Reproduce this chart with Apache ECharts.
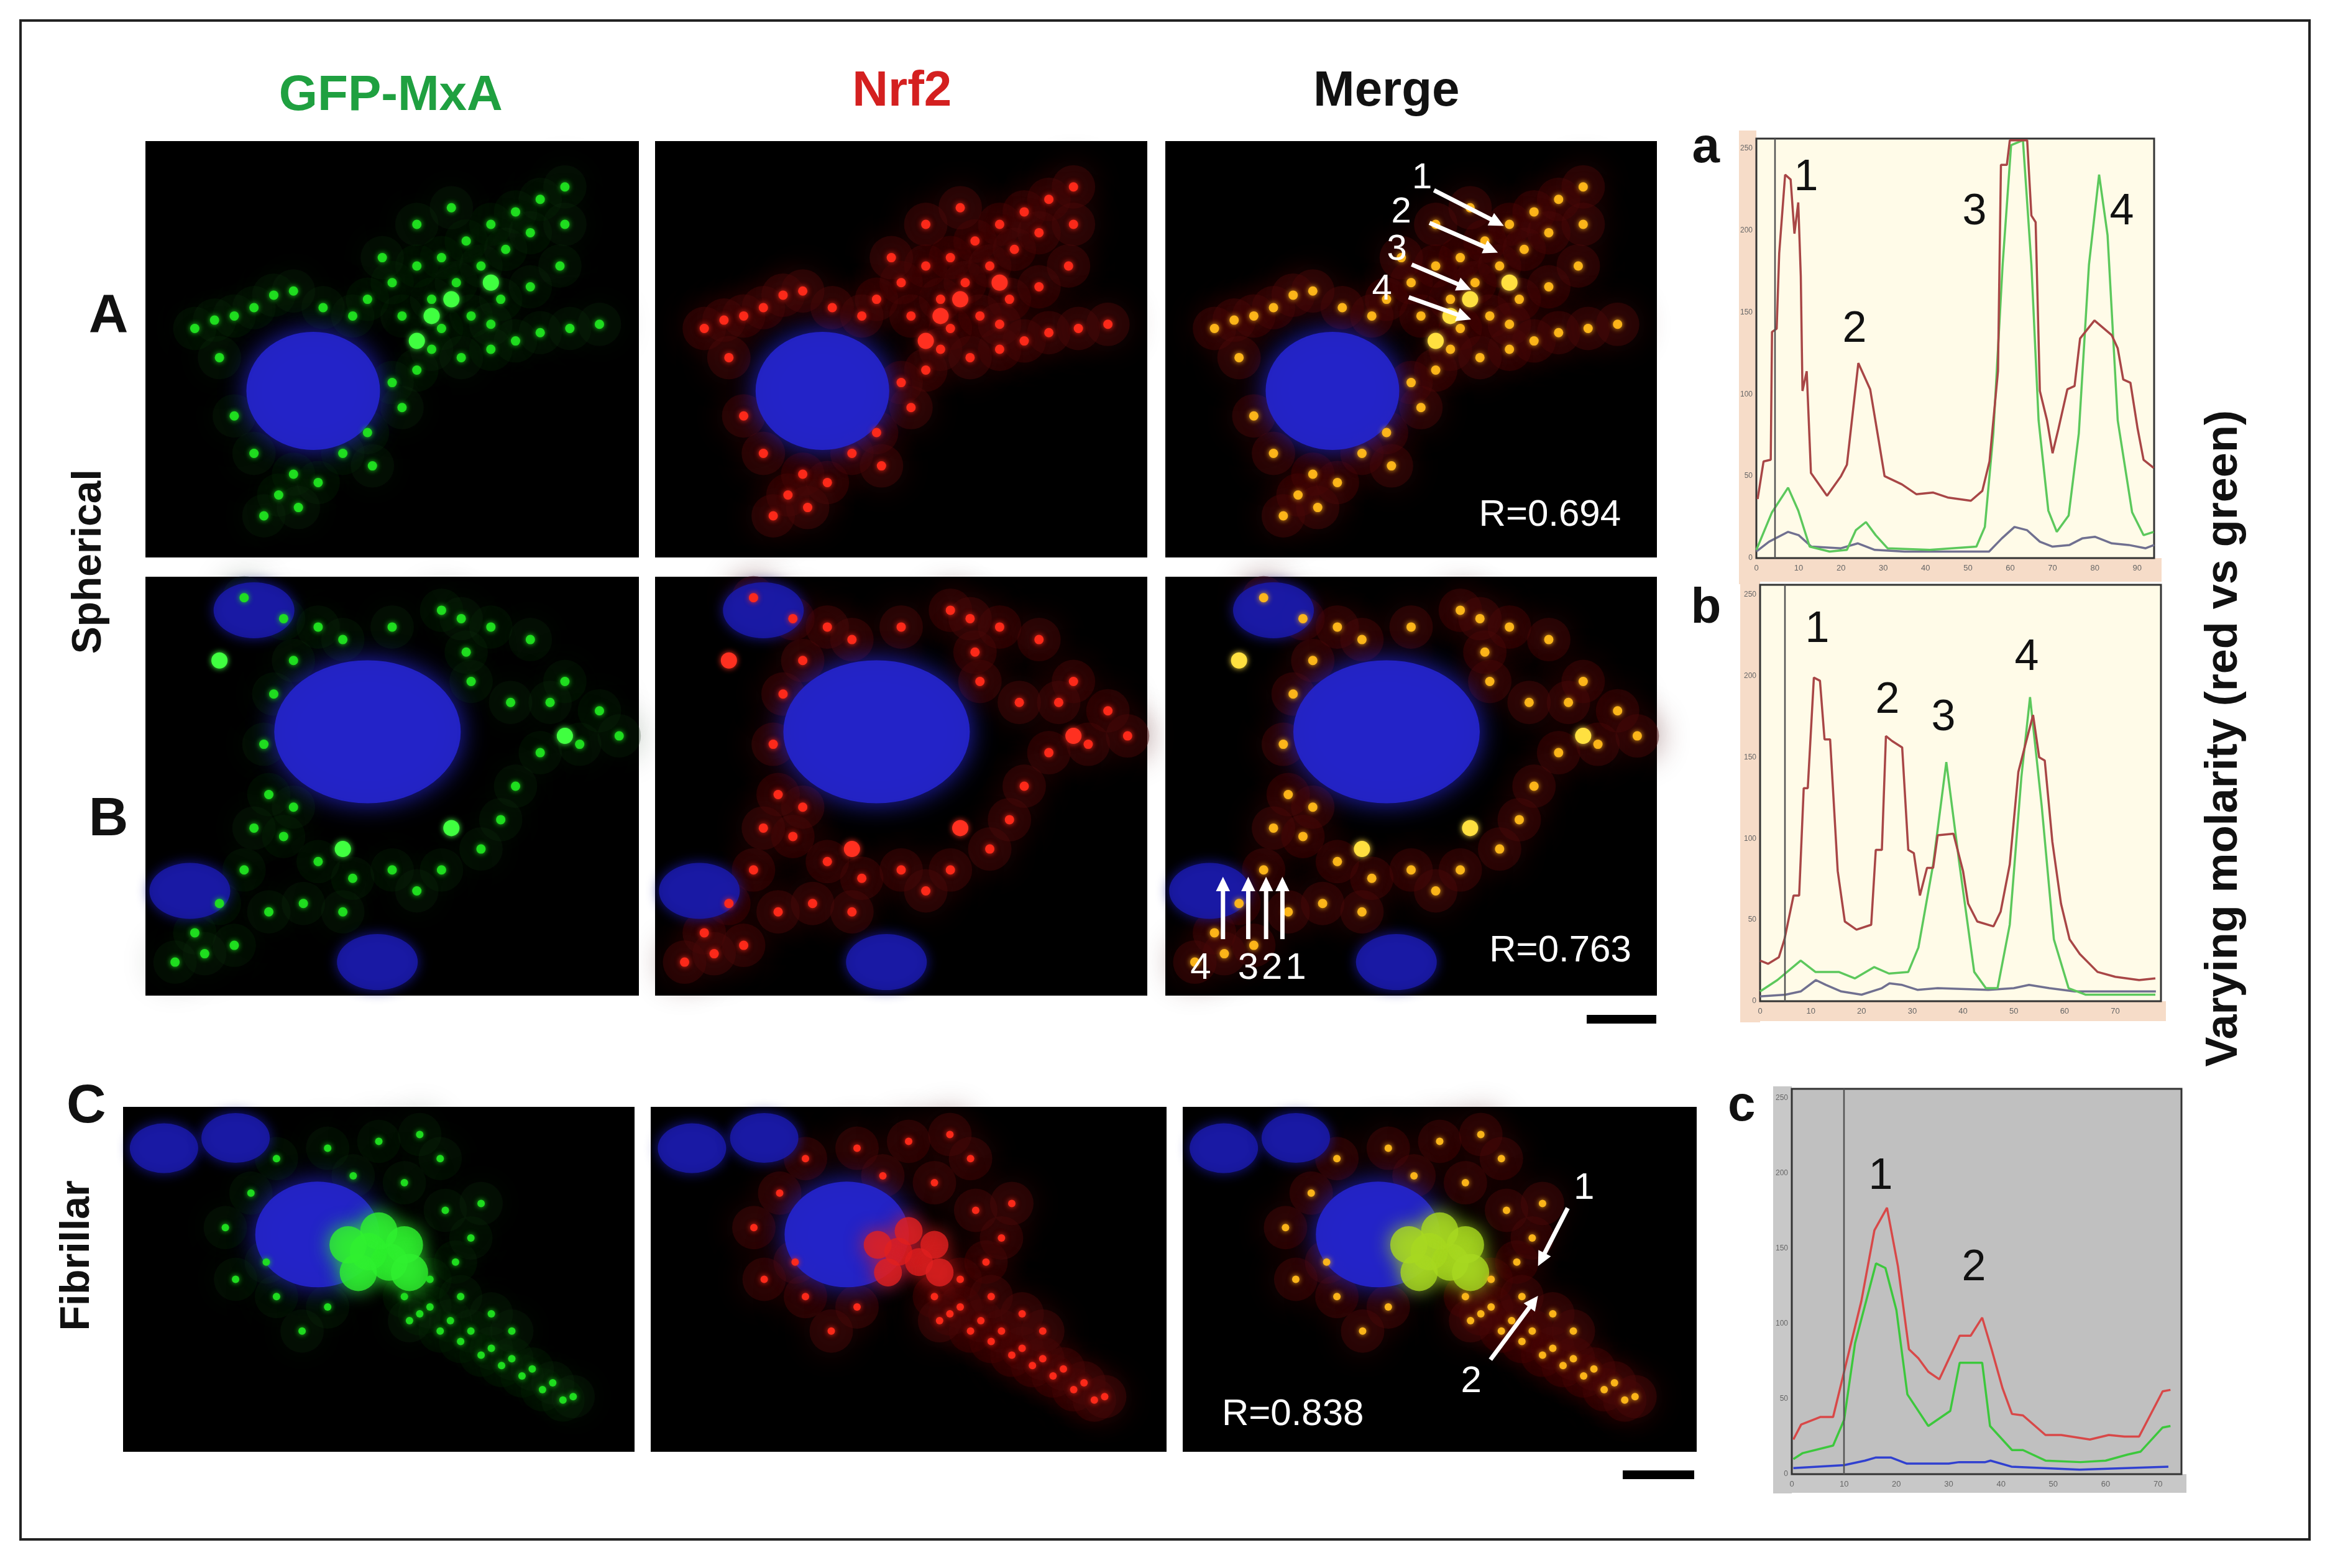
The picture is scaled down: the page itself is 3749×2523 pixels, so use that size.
<!DOCTYPE html>
<html><head><meta charset="utf-8">
<script src="https://cdn.jsdelivr.net/npm/echarts@6/dist/echarts.min.js"></script>
<style>html,body{margin:0;padding:0;background:#fff}#c{width:3749px;height:2523px}</style>
</head><body><div id="c"></div>
<script>
// ---- line profile data [pixel, grey] ----
const aRed=[[0.3,36],[1.7,59],[3.4,60],[3.7,138],[4.8,140],[5.4,186],[6.8,234],[8.1,231],[9,198],[9.9,217],[10.5,172],[10.9,102],[11.9,114],[12.9,52],[16.7,38],[20,50],[21.4,57],[24.1,119],[26.9,103],[28.9,72],[30.3,50],[34.4,45],[37.8,39],[41.8,40],[45.2,37],[50.7,35],[53.4,41],[55.1,59],[57.1,114],[57.8,240],[59.2,240],[59.9,255],[64,255],[65,209],[66,205],[67,102],[68.7,84],[70,64],[71.4,79],[73.5,103],[75.2,105],[76.5,134],[79.9,145],[84,136],[85.4,128],[86.7,109],[88.4,107],[90.1,79],[91.5,60],[93.9,55]];
const aGreen=[[0,5],[3.7,28],[7.5,43],[9.9,29],[12.6,7],[17.3,4],[21.4,5],[23.5,17],[25.9,22],[28.2,14],[31,6],[41,5],[52,7],[54,19],[56,76],[58.2,179],[60.2,252],[63,255],[65,179],[66.7,84],[69,29],[71,16],[73.8,26],[76.2,76],[78.6,179],[81,234],[83,197],[85.4,84],[88.8,28],[91.5,14],[93.9,16]];
const aBlue=[[0,4],[3,10],[7.5,16],[10,14],[13,7],[20,6],[24,9],[28,5],[35,4],[50,4],[55,4],[58,12],[61,19],[64,17],[67,10],[70,7],[74,8],[77,12],[80,13],[84,9],[88,8],[92,6],[94,8]];
const bRed=[[0,25],[1.6,23],[3.7,27],[4.8,38],[6.6,65],[7.7,65],[8.6,131],[9.4,131],[10.6,199],[11.8,197],[12.7,161],[13.8,161],[15.3,80],[16.7,49],[19,44],[21.9,47],[22.8,93],[24,93],[24.8,163],[26,160],[28,156],[29.2,93],[30.3,91],[31.5,65],[32.9,82],[34.1,82],[35,102],[38.1,103],[40,80],[41,60],[42.8,49],[46,46],[47.4,55],[49.2,84],[50.9,141],[52.3,158],[53.8,176],[55,150],[56.1,148],[57.6,98],[59.3,60],[61,38],[63,29],[66.5,18],[70,15],[74.7,13],[77.9,14]];
const bGreen=[[0,6],[3.4,13],[8,25],[10.9,18],[15.5,18],[18.7,14],[22.5,21],[25.4,17],[29.2,18],[31.2,33],[34.1,84],[36.7,147],[39.3,84],[42.2,18],[44.5,8],[46.8,8],[49.2,47],[51.5,138],[53.2,187],[55.5,120],[57.9,38],[60.8,8],[64.2,4],[71.8,4],[77.9,4]];
const bBlue=[[0,3],[5,4],[8,6],[11,13],[13,10],[16,6],[20,4],[24,8],[25.5,11],[28,10],[31,7],[35,8],[45,7],[50,8],[53,10],[57,8],[62,6],[70,6],[78,6]];
const cRed=[[0.3,23],[1.8,33],[5.5,38],[7.9,38],[10,68],[13.3,115],[15.8,162],[18.2,177],[20.3,138],[22.4,83],[24.2,77],[26.1,68],[28.2,63],[32.1,92],[34.2,92],[36.4,104],[38.2,83],[40.3,57],[42.1,40],[44.2,39],[48.5,26],[51.5,26],[57,23],[60.6,26],[63.6,25],[66.4,25],[70.9,55],[72.4,56]];
const cGreen=[[0.3,10],[2.1,14],[7.9,19],[10,36],[12.1,87],[16.1,140],[17.9,137],[20,109],[22.1,53],[26.1,32],[30.3,42],[32.1,74],[36.4,74],[37.9,32],[42.1,16],[44.2,16],[48.5,9],[55.2,8],[60,9],[64.2,13],[66.7,15],[70.9,31],[72.4,32]];
const cBlue=[[0.3,4],[10,6],[14,9],[16,11],[19,11],[22,7],[30,7],[32,8],[37,8],[38,9],[42,5],[55,3],[72,5]];
const peakLabels={a:['1','2','3','4'],b:['1','2','3','4'],c:['1','2']};
const rValues=['R=0.694','R=0.763','R=0.838'];
const colTitles=['GFP-MxA','Nrf2','Merge'];
const rowLabels=['A','B','C'];
const sideLabels=['Spherical','Fibrillar'];
const yLabel='Varying molarity (red vs green)';

// ---- microscopy marks [x%, y%] ----
const nucA=[[34,40]], nucB=[[45,63]], nucC=[[38,63]];
const extraNucB=[[22,92],[47,8],[9,25]], extraNucC=[[8,88],[22,91]];
const dotsA=[[45,62],[50,66],[55,70],[60,72],[65,76],[70,80],[75,83],[80,86],[85,89],[52,58],[58,62],[63,66],[68,70],[73,74],[78,78],[60,55],[66,58],[72,62],[78,65],[84,70],[70,50],[75,52],[80,54],[86,55],[92,56],[10,55],[14,57],[18,58],[22,60],[26,63],[30,20],[27,15],[24,10],[35,18],[31,12],[40,25],[45,30],[22,25],[18,34],[50,42],[55,45],[48,72],[55,80],[62,84],[42,58],[15,48],[85,80],[58,50],[64,48],[70,56],[36,60],[30,64],[46,22],[52,36]];
const bigA=[[62,62],[70,66],[58,58],[55,52]];
const dotsB=[[20,95],[28,90],[35,88],[60,92],[70,88],[78,85],[85,75],[92,68],[96,62],[88,60],[80,58],[75,50],[72,42],[68,35],[60,30],[50,30],[42,28],[35,32],[28,38],[25,48],[24,60],[26,72],[30,80],[40,85],[20,30],[15,22],[10,15],[6,8],[18,12],[25,20],[32,22],[40,20],[12,10],[50,88],[82,70],[65,82],[55,25],[30,45],[22,40],[66,75],[74,70],[64,90]];
const bigB=[[85,62],[40,35],[15,80],[62,40]];
const dotsC=[[30,85],[40,88],[50,90],[58,92],[62,85],[55,78],[45,80],[25,75],[20,65],[22,50],[30,45],[40,42],[55,45],[60,50],[65,55],[68,62],[63,70],[70,72],[58,40],[62,35],[66,32],[70,28],[74,25],[78,22],[82,18],[86,15],[60,42],[64,38],[68,35],[72,30],[76,27],[80,24],[84,20],[88,16],[56,38],[66,45],[72,40],[76,35],[35,35],[28,55]];
const massC=[[48,58],[52,55],[55,60],[50,64],[46,52],[56,52],[44,60]];

const W=2.391;
const chart=echarts.init(document.getElementById('c'),null,{renderer:'canvas'});
const grids=[],xAxes=[],yAxes=[],series=[];
function addGrid(l,t,w,h,bg,xr,yr,showAxis){
  const i=grids.length;
  grids.push({left:l,top:t,width:w,height:h,show:true,backgroundColor:bg,borderColor:showAxis?'#333':bg,borderWidth:showAxis?3:0});
  xAxes.push({gridIndex:i,type:'value',min:xr[0],max:xr[1],show:!!showAxis,interval:10,axisLine:{show:false},axisTick:{show:false},splitLine:{show:false},
    axisLabel:{fontSize:13,color:'#666',margin:10,showMaxLabel:false}});
  yAxes.push({gridIndex:i,type:'value',min:yr[0],max:yr[1],show:!!showAxis,interval:50,axisLine:{show:false},axisTick:{show:false},splitLine:{show:false},
    axisLabel:{fontSize:12,color:'#666',margin:6,showMaxLabel:false}});
  return i;
}
function sc(i,data,size,color,op,blur){
  series.push({type:'scatter',xAxisIndex:i,yAxisIndex:i,data:data,symbolSize:size,silent:true,
    itemStyle:{color:color,opacity:op,shadowBlur:blur||0,shadowColor:color}});
}
function panel(l,t,w,h,kind,col){
  const i=addGrid(l,t,w,h,'#000',[0,100],[0,100],false);
  const dots=kind==='A'?dotsA:kind==='B'?dotsB:dotsC;
  const big=kind==='A'?bigA:kind==='B'?bigB:massC;
  const nuc=kind==='A'?nucA:kind==='B'?nucB:nucC;
  const hazeCol=col===0?'#0a2a0a':'#4a0808';
  sc(i,dots,70,hazeCol,col===0?0.25:0.45,50);
  if(kind==='B') sc(i,extraNucB,[130,90],'#1a1aa8',0.85,20);
  if(kind==='C') sc(i,extraNucC,[110,80],'#1a1aa8',0.85,20);
  const ns=kind==='A'?[215,190]:kind==='B'?[300,230]:[200,170];
  sc(i,nuc,ns,'#2424c8',0.95,40);
  const dc=col===0?'#20e020':col===1?'#ff2a1a':'#ffb81a';
  const ds=kind==='C'?12:15;
  if(kind==='C'){
    sc(i,big,col===1?45:60,col===0?'#30f030':col===1?'#e02020':'#a8d820',0.8,30);
  }
  sc(i,dots,ds,dc,0.95,8);
  sc(i,big,kind==='C'?0:26,col===0?'#40ff40':col===1?'#ff3020':'#ffe040',1,10);
}
const colsAB=[[234,794],[1054,792],[1875,791]];
const colsC=[[198,823],[1047,830],[1903,827]];
colsAB.forEach((c,j)=>{panel(c[0],227,c[1],670,'A',j);panel(c[0],928,c[1],674,'B',j);});
colsC.forEach((c,j)=>panel(c[0],1781,c[1],555,'C',j));

function profile(l,t,w,h,bg,xmax,r,g,b,rc,gc,bc){
  const i=addGrid(l,t,w,h,bg,[0,xmax],[0,256],true);
  [[b,bc],[g,gc],[r,rc]].forEach(p=>series.push({type:'line',xAxisIndex:i,yAxisIndex:i,data:p[0],symbol:'none',lineStyle:{color:p[1],width:3.5},silent:true}));
}
profile(2826,223,640,675,'#fffbe8',94,aRed,aGreen,aBlue,'#a84646','#5cc85c','#707090');
profile(2832,941,645,670,'#fffbe8',79,bRed,bGreen,bBlue,'#a84646','#5cc85c','#707090');
profile(2883,1752,627,620,'#c0c0c0',74.5,cRed,cGreen,cBlue,'#d84848','#3cc83c','#3040d0');

const g=[];
g.push({type:'rect',shape:{x:33,y:33,width:3683,height:2444},style:{fill:'none',stroke:'#222',lineWidth:4},z:-1});
[[2798,210,28,730,'#f6dcc8'],[2798,898,680,38,'#f6dcc8'],[2800,930,32,715,'#f6dcc8'],[2800,1611,685,32,'#f6dcc8'],[2853,1748,30,655,'#c8c8c8'],[2853,2372,665,30,'#c8c8c8']].forEach(s=>
  g.push({type:'rect',shape:{x:s[0],y:s[1],width:s[2],height:s[3]},style:{fill:s[4]},z:-2}));
[[2856,223,898],[2872,941,1611],[2967,1752,2372]].forEach(v=>g.push({type:'line',shape:{x1:v[0],y1:v[1],x2:v[0],y2:v[2]},style:{stroke:'#555',lineWidth:2.5},z:10}));
function txt(x,y,t,size,color,bold,rot,align){
  g.push({type:'text',x:x,y:y,rotation:rot||0,z:20,style:{text:t,fontSize:size,fill:color,fontWeight:bold?'bold':'normal',fontFamily:'Liberation Sans, Arial',align:align||'center',verticalAlign:'middle'}});
}
txt(263*W,65*W,colTitles[0],80,'#1fa040',true);
txt(607*W,62*W,colTitles[1],80,'#d42020',true);
txt(933*W,62*W,colTitles[2],80,'#111',true);
txt(73*W,213*W,rowLabels[0],88,'#111',true);
txt(73*W,552*W,rowLabels[1],88,'#111',true);
txt(58*W,745*W,rowLabels[2],88,'#111',true);
txt(60*W,378*W,sideLabels[0],66,'#111',true,Math.PI/2);
txt(52*W,845*W,sideLabels[1],66,'#111',true,Math.PI/2);
txt(1497*W,497*W,yLabel,72,'#111',true,Math.PI/2);
txt(1148*W,100*W,'a',80,'#111',true);
txt(1148*W,410*W,'b',80,'#111',true);
txt(1172*W,745*W,'c',80,'#111',true);
[[2906,287],[2984,531],[3177,342],[3414,342]].forEach((p,k)=>txt(p[0],p[1],peakLabels.a[k],70,'#111'));
[[2924,1014],[3037,1128],[3127,1156],[3261,1059]].forEach((p,k)=>txt(p[0],p[1],peakLabels.b[k],70,'#111'));
[[3026,1894],[3176,2041]].forEach((p,k)=>txt(p[0],p[1],peakLabels.c[k],70,'#111'));
txt(1043*W,347*W,rValues[0],60,'#fff');
txt(1050*W,640*W,rValues[1],60,'#fff');
txt(870*W,952*W,rValues[2],60,'#fff');
function arrow(x1,y1,x2,y2){
  x1*=W;y1*=W;x2*=W;y2*=W;
  const a=Math.atan2(y2-y1,x2-x1),L=26,s=0.45;
  g.push({type:'line',shape:{x1:x1,y1:y1,x2:x2-Math.cos(a)*15,y2:y2-Math.sin(a)*15},style:{stroke:'#fff',lineWidth:7},z:20});
  g.push({type:'polygon',shape:{points:[[x2,y2],[x2-L*Math.cos(a-s),y2-L*Math.sin(a-s)],[x2-L*Math.cos(a+s),y2-L*Math.sin(a+s)]]},style:{fill:'#fff'},z:20});
}
arrow(965,128,1012,152);arrow(962,150,1008,170);arrow(950,178,990,195);arrow(948,200,990,215);
txt(957*W,120*W,'1',58,'#fff');txt(943*W,143*W,'2',58,'#fff');txt(940*W,168*W,'3',58,'#fff');txt(930*W,195*W,'4',58,'#fff');
[823,840,852,863].forEach(x=>arrow(x,632,x,590));
txt(808*W,652*W,'4',60,'#fff');txt(840*W,652*W,'3',60,'#fff');txt(856*W,652*W,'2',60,'#fff');txt(872*W,652*W,'1',60,'#fff');
arrow(1055,813,1035,852);arrow(1003,915,1035,872);
txt(1066*W,800*W,'1',60,'#fff');txt(990*W,930*W,'2',60,'#fff');
g.push({type:'rect',shape:{x:2553,y:1633,width:112,height:14},style:{fill:'#000'}});
g.push({type:'rect',shape:{x:2611,y:2366,width:115,height:14},style:{fill:'#000'}});

chart.setOption({animation:false,backgroundColor:'#fff',grid:grids,xAxis:xAxes,yAxis:yAxes,series:series,graphic:{elements:g}});
</script></body></html>
